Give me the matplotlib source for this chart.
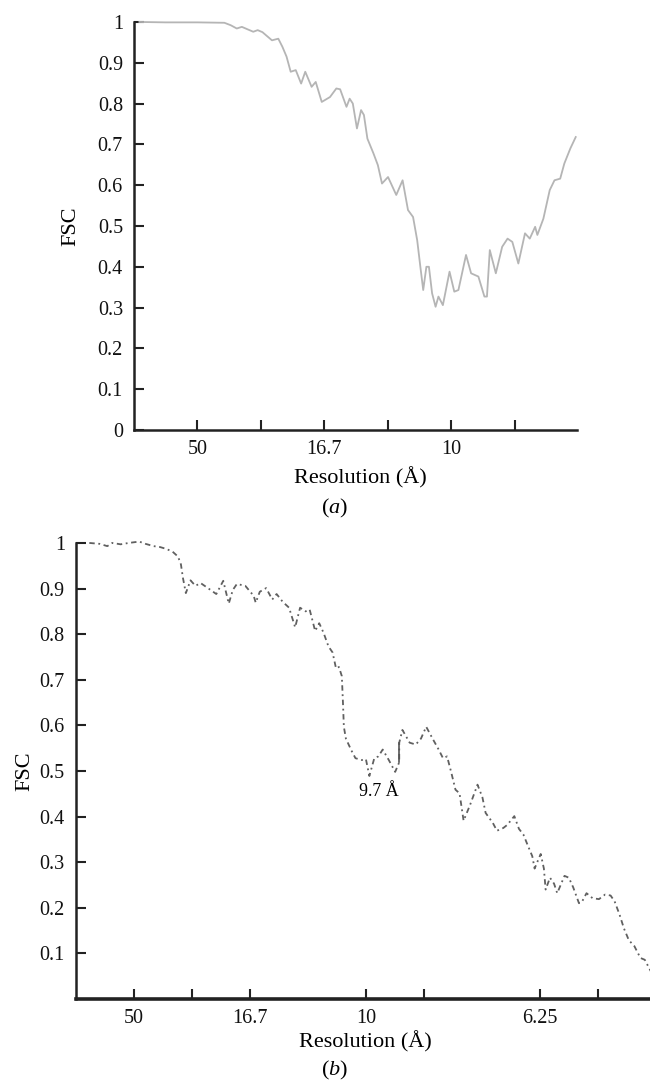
import numpy as np
import matplotlib.pyplot as plt

plt.rcParams['font.family'] = ['Liberation Serif', 'DejaVu Serif']
plt.rcParams['mathtext.fontset'] = 'custom'
plt.rcParams['mathtext.rm'] = 'Liberation Serif'
plt.rcParams['mathtext.it'] = 'Liberation Serif:italic'

# panel (a): spatial frequency (1/A) and FSC
freq_a = [0.0017, 0.010, 0.020, 0.0285, 0.0305, 0.0324, 0.034, 0.0376, 0.039, 0.0405,
          0.0435, 0.0455, 0.0468, 0.0481, 0.0494, 0.051, 0.0527, 0.054, 0.056, 0.0573,
          0.0592, 0.0618, 0.0638, 0.065, 0.067, 0.068, 0.069, 0.0703, 0.0716, 0.0725,
          0.0736, 0.0755, 0.0769, 0.0782, 0.0801, 0.0827, 0.0847, 0.0864, 0.088, 0.0893,
          0.0903, 0.0912, 0.0922, 0.093, 0.094, 0.0951, 0.096, 0.0974, 0.0995, 0.101,
          0.1023, 0.1047, 0.1063, 0.1086, 0.1105, 0.1113, 0.1122, 0.1141, 0.1161, 0.1178,
          0.1193, 0.1212, 0.1233, 0.1248, 0.1265, 0.1272, 0.1291, 0.1311, 0.1326, 0.1344,
          0.1357, 0.1376, 0.1393]
fsc_a = [1.0, 0.999, 0.999, 0.998, 0.992, 0.984, 0.988, 0.976, 0.98, 0.975,
         0.955, 0.959, 0.939, 0.915, 0.878, 0.882, 0.849, 0.878, 0.841, 0.853,
         0.804, 0.816, 0.837, 0.835, 0.792, 0.812, 0.80, 0.739, 0.784, 0.772,
         0.714, 0.678, 0.649, 0.604, 0.620, 0.576, 0.612, 0.539, 0.522, 0.465,
         0.40, 0.343, 0.40, 0.40, 0.335, 0.302, 0.327, 0.306, 0.388, 0.339,
         0.343, 0.429, 0.384, 0.376, 0.327, 0.327, 0.441, 0.384, 0.449, 0.469,
         0.461, 0.408, 0.482, 0.469, 0.498, 0.478, 0.518, 0.588, 0.612, 0.616,
         0.653, 0.69, 0.718]

# panel (b)
freq_b = [0.0046, 0.0082, 0.0108, 0.0125, 0.0154, 0.0182, 0.0218, 0.024, 0.0268, 0.029,
          0.0311, 0.0333, 0.0352, 0.0362, 0.0369, 0.0379, 0.0395, 0.0412, 0.043, 0.0455,
          0.0484, 0.0508, 0.0527, 0.0541, 0.0555, 0.0584, 0.0613, 0.062, 0.0634, 0.0656,
          0.0677, 0.0692, 0.0713, 0.0735, 0.0756, 0.0773, 0.0792, 0.0806, 0.0825, 0.0839,
          0.0854, 0.0871, 0.0885, 0.0897, 0.0907, 0.0917, 0.0921, 0.0924, 0.0931, 0.095,
          0.0964, 0.0986, 0.1, 0.1012, 0.1029, 0.1043, 0.1058, 0.1079, 0.1101, 0.1115,
          0.1115, 0.1126, 0.1151, 0.1172, 0.119, 0.1208, 0.123, 0.1251, 0.1266, 0.128,
          0.1294, 0.1309, 0.1323, 0.1337, 0.1359, 0.1385, 0.1402, 0.1413, 0.1438, 0.1452,
          0.1474, 0.1488, 0.1512, 0.1528, 0.1543, 0.1557, 0.1574, 0.1582, 0.1591, 0.1603,
          0.1614, 0.162, 0.1635, 0.1649, 0.166, 0.1685, 0.17, 0.1715, 0.1735, 0.1746,
          0.1761, 0.1782, 0.1804, 0.1825, 0.1844, 0.1858, 0.1875, 0.189, 0.1907, 0.1926,
          0.1947, 0.1962, 0.1976, 0.1987]
fsc_b = [1.0, 0.998, 0.993, 1.0, 0.997, 1.0, 1.003, 0.998, 0.993, 0.991,
         0.987, 0.981, 0.970, 0.953, 0.923, 0.890, 0.918, 0.906, 0.912, 0.901,
         0.888, 0.917, 0.867, 0.897, 0.910, 0.906, 0.884, 0.869, 0.893, 0.901,
         0.876, 0.888, 0.871, 0.858, 0.815, 0.858, 0.850, 0.854, 0.807, 0.824,
         0.803, 0.773, 0.760, 0.725, 0.728, 0.708, 0.648, 0.597, 0.571, 0.545,
         0.528, 0.524, 0.526, 0.489, 0.528, 0.532, 0.547, 0.524, 0.498, 0.519,
         0.562, 0.590, 0.562, 0.558, 0.571, 0.597, 0.571, 0.547, 0.528, 0.532,
         0.498, 0.459, 0.451, 0.391, 0.425, 0.470, 0.442, 0.408, 0.386, 0.369,
         0.375, 0.382, 0.401, 0.373, 0.361, 0.339, 0.313, 0.286, 0.30, 0.318,
         0.286, 0.240, 0.266, 0.253, 0.232, 0.270, 0.266, 0.245, 0.210, 0.214,
         0.232, 0.221, 0.219, 0.229, 0.227, 0.214, 0.185, 0.155, 0.129, 0.116,
         0.090, 0.086, 0.069, 0.056]

ticks_a = [0.02, 0.04, 0.06, 0.08, 0.10, 0.12]
labels_a = ['50', '', '16.7', '', '10', '']
ticks_b = [0.02, 0.04, 0.06, 0.10, 0.12, 0.16, 0.18]
labels_b = ['50', '', '16.7', '10', '', '6.25', '']
yt_a = [0, 0.1, 0.2, 0.3, 0.4, 0.5, 0.6, 0.7, 0.8, 0.9, 1]
yl_a = ['0', '0.1', '0.2', '0.3', '0.4', '0.5', '0.6', '0.7', '0.8', '0.9', '1']
yt_b = yt_a[1:]
yl_b = yl_a[1:]

fig = plt.figure(figsize=(6.5, 10.82), dpi=100)
axc = '#222222'


def style(ax, bw):
    for s in ['top', 'right']:
        ax.spines[s].set_visible(False)
    ax.spines['left'].set_linewidth(1.8)
    ax.spines['bottom'].set_linewidth(bw)
    ax.spines['left'].set_color(axc)
    ax.spines['bottom'].set_color(axc)
    ax.tick_params(direction='in', length=7, width=1.5, colors=axc, labelsize=14.5,
                   labelcolor='#111111')
    ax.tick_params(axis='y', pad=8)
    ax.tick_params(axis='x', pad=7)
    ax.set_ylim(0, 1)


ax1 = fig.add_axes([0.2062, 0.6026, 0.6815, 0.3771])
ax1.plot(freq_a, fsc_a, color='#b5b5b5', lw=1.3, clip_on=False)
ax1.set_xlim(0, 0.1397)
ax1.set_xticks(ticks_a)
ax1.set_xticklabels(labels_a)
ax1.set_yticks(yt_a)
ax1.set_yticklabels(yl_a)
style(ax1, 1.8)

ax2 = fig.add_axes([0.1169, 0.0767, 0.8831, 0.4215])
ax2.plot(freq_b, fsc_b, color='#606060', lw=1.3, ls=(0, (3, 2, 1, 2)), clip_on=False)
ax2.plot(freq_b[59:61], fsc_b[59:61], color='#555555', lw=1.2)
ax2.text(0.1046, 0.455, '9.7 Å', ha='center', va='center', fontsize=13)
ax2.set_xlim(0, 0.198)
ax2.set_xticks(ticks_b)
ax2.set_xticklabels(labels_b)
ax2.set_yticks(yt_b)
ax2.set_yticklabels(yl_b)
style(ax2, 2.6)

fig.text(0.109, 0.791, 'FSC', rotation=90, ha='center', va='center', fontsize=16)
fig.text(0.555, 0.558, 'Resolution (Å)', ha='center', va='center', fontsize=16)
fig.text(0.514, 0.5296, '($\\mathit{a}$)', ha='center', va='center', fontsize=16)
fig.text(0.0385, 0.2874, 'FSC', rotation=90, ha='center', va='center', fontsize=16)
fig.text(0.5615, 0.037, 'Resolution (Å)', ha='center', va='center', fontsize=16)
fig.text(0.514, 0.0102, '($\\mathit{b}$)', ha='center', va='center', fontsize=16)

plt.savefig('out.png', dpi=100)
